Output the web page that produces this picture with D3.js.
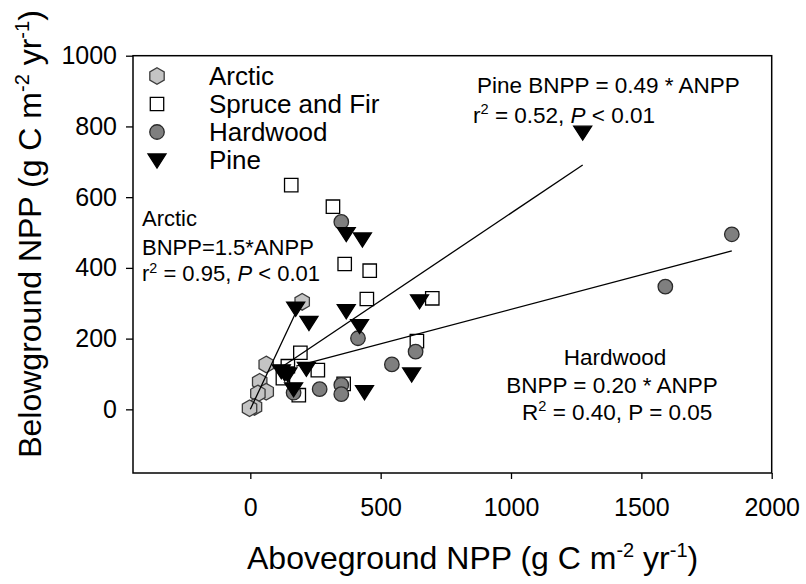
<!DOCTYPE html>
<html>
<head>
<meta charset="utf-8">
<script src="https://cdn.jsdelivr.net/npm/d3@7"></script>
<style>
body { margin: 0; background: #fff; }
svg { display: block; font-family: "Liberation Sans", Arial, sans-serif; }
</style>
</head>
<body>
<div id="vis"></div>
<script>
const w = 806;
const h = 584;

// plot box
const box = {left: 133, right: 771.7, top: 55.7, bottom: 473};

// data: [ANPP, BNPP]
const arcticPts = [[199, 304], [61, 127], [36, 78], [61, 50], [29, 45], [16, 7], [-3, 3]];
const sprucePts = [[157, 634], [317, 573], [362, 411], [458, 392], [447, 312], [698, 314], [639, 193],
    [192, 160], [144, 122], [125, 88], [259, 111], [186, 40], [358, 72]];
const hardwoodPts = [[349, 530], [413, 201], [634, 163], [543, 127], [1847, 495], [1592, 347],
    [166, 47], [266, 57], [349, 69], [349, 43]];
const pinePts = [[1275, 781], [368, 494], [430, 479], [368, 276], [419, 234], [649, 304], [619, 97],
    [174, 283], [225, 243], [215, 113], [119, 106], [144, 97], [132, 100], [166, 55], [438, 47]];

// regression line end points
const arcticFit = [[0, 0], [190, 298]];
const pineFit = [[119, 119], [1275, 691]];
const hardwoodFit = [[176, 122], [1847, 448]];

const xTicks = [0, 500, 1000, 1500, 2000];
const yTicks = [0, 200, 400, 600, 800, 1000];

const svg = d3.select('#vis')
    .append('svg')
    .attr('width', w)
    .attr('height', h)

let xScale = d3.scaleLinear()
    .domain([-450, 2000])
    .range([box.left, box.right]);

let yScale = d3.scaleLinear()
    .domain([-180, 1000])
    .range([box.bottom, box.top]);

// custom marker shapes
const hexSym = {
    draw(ctx, r) {
        for (let i = 0; i < 6; i++) {
            const a = Math.PI / 3 * i - Math.PI / 2;
            if (i === 0) ctx.moveTo(r * Math.cos(a), r * Math.sin(a));
            else ctx.lineTo(r * Math.cos(a), r * Math.sin(a));
        }
        ctx.closePath();
    }
};
const triDown = {
    draw(ctx, s) {
        ctx.moveTo(-s, -0.78 * s);
        ctx.lineTo(s, -0.78 * s);
        ctx.lineTo(0, 0.78 * s);
        ctx.closePath();
    }
};

const series = [
    {name: 'Arctic', pts: arcticPts, sym: d3.symbol().type(hexSym).size(8.3), fill: '#c4c4c4', stroke: '#3c3c3c'},
    {name: 'Spruce and Fir', pts: sprucePts, sym: d3.symbol().type(d3.symbolSquare).size(180), fill: '#ffffff', stroke: '#000'},
    {name: 'Hardwood', pts: hardwoodPts, sym: d3.symbol().type(d3.symbolCircle).size(165), fill: '#7f7f7f', stroke: '#2a2a2a'},
    {name: 'Pine', pts: pinePts, sym: d3.symbol().type(triDown).size(9), fill: '#000', stroke: '#000'}
];

// axes
let xAxis = d3.axisBottom(xScale)
    .tickValues(xTicks)
    .tickFormat(d3.format('d'))
    .tickSize(6)
    .tickSizeOuter(0)
    .tickPadding(19);

let yAxis = d3.axisLeft(yScale)
    .tickValues(yTicks)
    .tickFormat(d3.format('d'))
    .tickSize(7)
    .tickSizeOuter(0)
    .tickPadding(9);

svg.append('g')
    .attr('transform', 'translate(0, ' + box.bottom + ')')
    .call(xAxis)
    .call(g => g.select('.domain').remove())
    .selectAll('text')
    .attr('font-size', '25px')
    .attr('font-family', '"Liberation Sans", Arial, sans-serif')
    .attr('fill', '#000');

svg.append('g')
    .attr('transform', 'translate(' + box.left + ', 0)')
    .call(yAxis)
    .call(g => g.select('.domain').remove())
    .selectAll('text')
    .attr('font-size', '25px')
    .attr('font-family', '"Liberation Sans", Arial, sans-serif')
    .attr('fill', '#000');

svg.selectAll('.tick line').attr('stroke', '#000').attr('stroke-width', 1.3);

svg.append('rect')
    .attr('x', box.left)
    .attr('y', box.top)
    .attr('width', box.right - box.left)
    .attr('height', box.bottom - box.top)
    .attr('fill', 'none')
    .attr('stroke', '#000')
    .attr('stroke-width', 1.5);

// points
series.forEach(s => {
    svg.append('g')
        .selectAll('path')
        .data(s.pts)
        .join('path')
        .attr('transform', d => 'translate(' + xScale(d[0]) + ',' + yScale(d[1]) + ')')
        .attr('d', s.sym)
        .attr('fill', s.fill)
        .attr('stroke', s.stroke)
        .attr('stroke-width', 1.3);
});

// regression lines
[arcticFit, pineFit, hardwoodFit].forEach(f => {
    svg.append('line')
        .attr('x1', xScale(f[0][0]))
        .attr('y1', yScale(f[0][1]))
        .attr('x2', xScale(f[1][0]))
        .attr('y2', yScale(f[1][1]))
        .attr('stroke', '#000')
        .attr('stroke-width', 1.3);
});

// legend
series.forEach((s, i) => {
    const y = 85 + i * 28;
    svg.append('path')
        .attr('transform', 'translate(157,' + (y - 9 + (i === 3 ? 1 : 0)) + ')')
        .attr('d', s.sym)
        .attr('fill', s.fill)
        .attr('stroke', s.stroke)
        .attr('stroke-width', 1.3);
    svg.append('text')
        .attr('x', 209)
        .attr('y', y)
        .attr('font-size', '26px')
        .text(s.name);
});

// helper for "x<sup>n</sup> rest" strings
function addSup(t, base, sup, rest, size) {
    t.append('tspan').text(base);
    t.append('tspan').attr('font-size', size * 0.65 + 'px').attr('dy', -size * 0.38).text(sup);
    t.append('tspan').attr('dy', size * 0.38).text(rest);
}

// pine annotation
svg.append('text')
    .attr('x', 477).attr('y', 93)
    .attr('font-size', '22.5px')
    .text('Pine BNPP = 0.49 * ANPP');
let tp = svg.append('text').attr('x', 473).attr('y', 123).attr('font-size', '22.5px');
addSup(tp, 'r', '2', ' = 0.52, ', 22.5);
tp.append('tspan').attr('font-style', 'italic').text('P');
tp.append('tspan').text(' < 0.01');

// arctic annotation
svg.append('text').attr('x', 142).attr('y', 226).attr('font-size', '22px').text('Arctic');
svg.append('text').attr('x', 142).attr('y', 255).attr('font-size', '22px').text('BNPP=1.5*ANPP');
let ta = svg.append('text').attr('x', 142).attr('y', 281).attr('font-size', '22px');
addSup(ta, 'r', '2', ' = 0.95, ', 22);
ta.append('tspan').attr('font-style', 'italic').text('P');
ta.append('tspan').text(' < 0.01');

// hardwood annotation
svg.append('text').attr('x', 615).attr('y', 365).attr('text-anchor', 'middle')
    .attr('font-size', '22.5px').text('Hardwood');
svg.append('text').attr('x', 612).attr('y', 393).attr('text-anchor', 'middle')
    .attr('font-size', '22.5px').text('BNPP = 0.20 * ANPP');
let th = svg.append('text').attr('x', 522).attr('y', 420).attr('font-size', '22.5px');
addSup(th, 'R', '2', ' = 0.40, P = 0.05', 22.5);

// axis titles
let xt = svg.append('text')
    .attr('x', 247)
    .attr('y', 569)
    .attr('font-size', '32px');
xt.append('tspan').text('Aboveground NPP (g C m');
xt.append('tspan').attr('font-size', '20px').attr('dy', -12).text('-2');
xt.append('tspan').attr('dy', 12).text(' yr');
xt.append('tspan').attr('font-size', '20px').attr('dy', -12).text('-1');
xt.append('tspan').attr('dy', 12).text(')');

let yt = svg.append('text')
    .attr('transform', 'translate(41, 234) rotate(-90)')
    .attr('text-anchor', 'middle')
    .attr('font-size', '32px');
yt.append('tspan').text('Belowground NPP (g C m');
yt.append('tspan').attr('font-size', '20px').attr('dy', -12).text('-2');
yt.append('tspan').attr('dy', 12).text(' yr');
yt.append('tspan').attr('font-size', '20px').attr('dy', -12).text('-1');
yt.append('tspan').attr('dy', 12).text(')');
</script>
</body>
</html>
